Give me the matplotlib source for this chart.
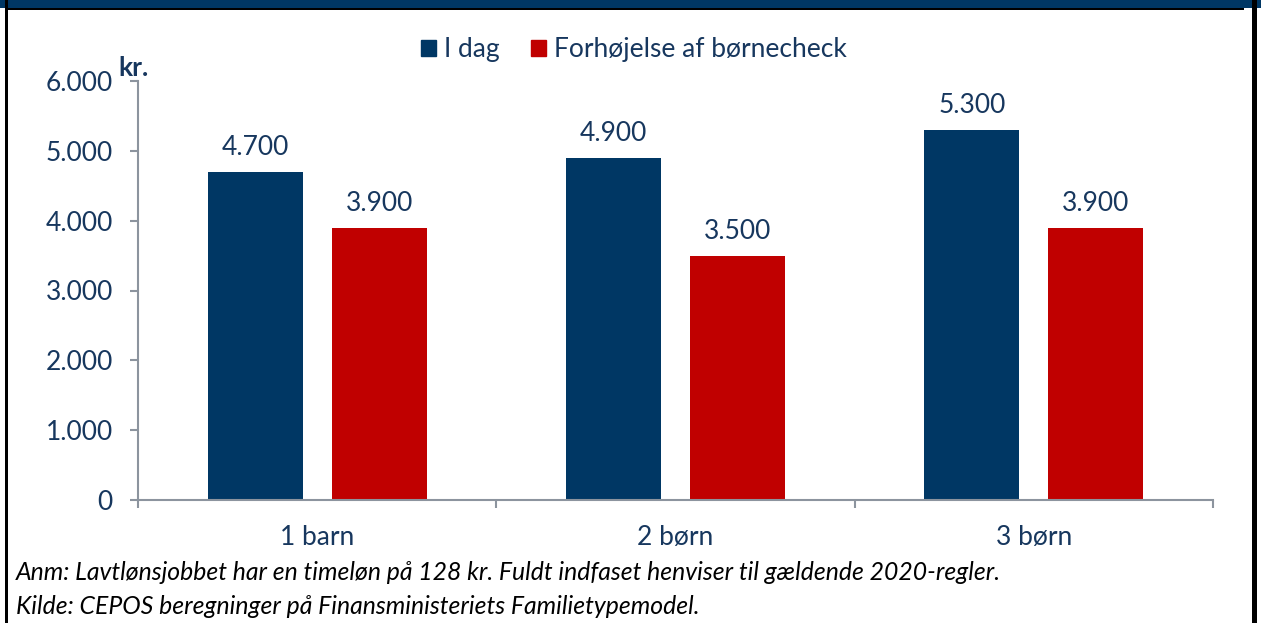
import matplotlib.pyplot as plt
from matplotlib.patches import Rectangle
import numpy as np

# --- Data ---
categories = ["1 barn", "2 børn", "3 børn"]
i_dag = [4700, 4900, 5300]
forhoejelse = [3900, 3500, 3900]
series_names = ["I dag", "Forhøjelse af børnecheck"]
y_ticks = [0, 1000, 2000, 3000, 4000, 5000, 6000]
notes = [
    "Anm: Lavtlønsjobbet har en timeløn på 128 kr. Fuldt indfaset henviser til gældende 2020-regler.",
    "Kilde: CEPOS beregninger på Finansministeriets Familietypemodel.",
]

BLUE = "#003764"
RED = "#C00000"
TXT = "#17375E"
AXC = "#8C949E"
FS = 19

plt.rcParams["font.family"] = ["Lato", "DejaVu Sans"]

W, H = 1261, 623
fig = plt.figure(figsize=(W / 100, H / 100), dpi=100)

def px_rect(x0, y0, x1, y1, color):
    # rectangle in pixel coords (top-left origin)
    fig.patches.append(Rectangle((x0 / W, 1 - y1 / H), (x1 - x0) / W, (y1 - y0) / H,
                                 transform=fig.transFigure, color=color, lw=0, zorder=5))

# frame decoration
px_rect(0, 0, W, 7.5, BLUE)
px_rect(8, 7.5, 1244, 9.5, "black")
px_rect(5, 0, 8.3, H, "black")
px_rect(1252, 0, 1257, H, "black")

ax = fig.add_axes([138 / W, 1 - 500 / H, (1213 - 138) / W, (500 - 81) / H])

x = np.arange(len(categories))
bw, off = 0.265, 0.173
b1 = ax.bar(x - off, i_dag, bw, color=BLUE, label=series_names[0])
b2 = ax.bar(x + off, forhoejelse, bw, color=RED, label=series_names[1])

for bars, vals in [(b1, i_dag), (b2, forhoejelse)]:
    for r, v in zip(bars, vals):
        ax.annotate(f"{v:,}".replace(",", "."), (r.get_x() + r.get_width() / 2, v),
                    xytext=(0, 12), textcoords="offset points", ha="center",
                    va="baseline", fontsize=FS, color=TXT)

ax.set_xlim(-0.5, len(categories) - 0.5)
ax.set_ylim(0, 6000)
ax.set_yticks(y_ticks)
ax.set_yticklabels([f"{t:,}".replace(",", ".") for t in y_ticks])
ax.set_xticks(x)
ax.set_xticklabels(categories)
ax.set_xticks(np.arange(len(categories) + 1) - 0.5, minor=True)

for s in ["top", "right"]:
    ax.spines[s].set_visible(False)
for s in ["left", "bottom"]:
    ax.spines[s].set_color(AXC)
    ax.spines[s].set_linewidth(1.5)

ax.tick_params(axis="y", length=6, width=1.5, color=AXC, pad=12, labelsize=FS, labelcolor=TXT)
ax.tick_params(axis="x", which="major", length=0, pad=18, labelsize=FS, labelcolor=TXT)
ax.tick_params(axis="x", which="minor", length=6, width=1.5, color=AXC)

h = [Rectangle((0, 0), 1, 1, color=BLUE), Rectangle((0, 0), 1, 1, color=RED)]
fig.legend(h, series_names, loc="center", bbox_to_anchor=(634 / W, 1 - 50 / H), ncol=2,
           frameon=False, fontsize=FS, labelcolor=TXT, handlelength=0.55, handleheight=0.55,
           handletextpad=0.3, columnspacing=1.2)

fig.text(118 / W, 1 - 68 / H, "kr.", fontsize=FS, fontweight="bold", color=TXT, va="center")

for i, n in enumerate(notes):
    fig.text(16 / W, 1 - (572 + 34 * i) / H, n, fontsize=17.8, style="italic",
             color="black", va="center")

fig.savefig("out.png", dpi=100)
